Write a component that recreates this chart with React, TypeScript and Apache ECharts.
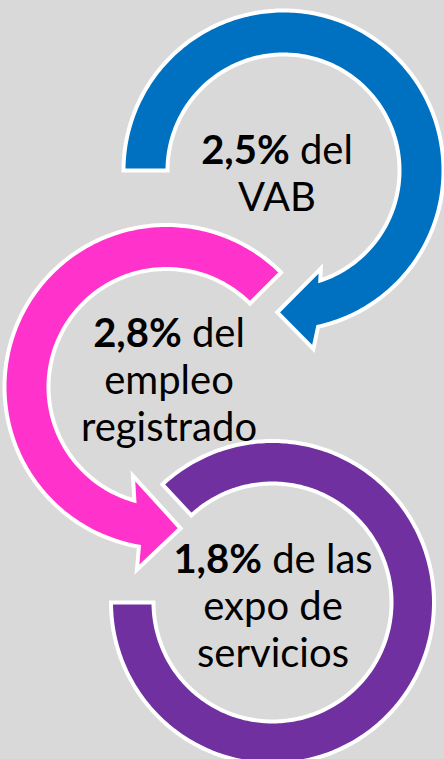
import React, { useEffect, useRef } from "react";
import * as echarts from "echarts";

// ---- content data ----
const percents = ["2,5%", "2,8%", "1,8%"];
const firstLineRest = [" del", " del", " de las"];
const otherLines = [["VAB"], ["empleo", "registrado"], ["expo de", "servicios"]];
const colors = ["#0070C0", "#FF33CC", "#7030A0"];

// ---- layout (ring geometry, screen angles in degrees, y down) ----
type Arrow = { outerWing: [number, number]; tip: [number, number]; innerWing: [number, number] };
type Ring = {
  cx: number; cy: number; rIn: number; rOut: number;
  start: number; endOuter: number; endInner: number;
  arrow?: Arrow;
  textX: number; textY: number;
};
const rings: Ring[] = [
  {
    cx: 283.5, cy: 170.5, rIn: 116, rOut: 160,
    start: 180, endOuter: 437.5, endInner: 431.5,
    arrow: { outerWing: [181, 440.5], tip: [142, 452.5], innerWing: [105, 429.2] },
    textX: 277, textY: 172,
  },
  {
    cx: 166.5, cy: 387, rIn: 118, rOut: 162,
    start: 315, endOuter: 99.8, endInner: 105.8,
    arrow: { outerWing: [185, 99.2], tip: [142, 84.3], innerWing: [95, 110.7] },
    textX: 169, textY: 379,
  },
  {
    cx: 272.5, cy: 602.5, rIn: 119, rOut: 161.5,
    start: 227, endOuter: 540, endInner: 540,
    textX: 273, textY: 605,
  },
];

const FONT = "Lato";
const FS = 40;
const LH = 47;

function polar(cx: number, cy: number, r: number, deg: number): number[] {
  const a = (deg * Math.PI) / 180;
  return [cx + r * Math.cos(a), cy + r * Math.sin(a)];
}
function arcPts(cx: number, cy: number, r: number, a0: number, a1: number): number[][] {
  const n = Math.max(2, Math.ceil(Math.abs(a1 - a0) / 1));
  const out: number[][] = [];
  for (let i = 0; i <= n; i++) out.push(polar(cx, cy, r, a0 + ((a1 - a0) * i) / n));
  return out;
}
function outline(g: Ring): number[][] {
  const pts = arcPts(g.cx, g.cy, g.rOut, g.start, g.endOuter);
  if (g.arrow) {
    pts.push(polar(g.cx, g.cy, g.arrow.outerWing[0], g.arrow.outerWing[1]));
    pts.push(polar(g.cx, g.cy, g.arrow.tip[0], g.arrow.tip[1]));
    pts.push(polar(g.cx, g.cy, g.arrow.innerWing[0], g.arrow.innerWing[1]));
  }
  return pts.concat(arcPts(g.cx, g.cy, g.rIn, g.endInner, g.start));
}

export default function App() {
  const ref = useRef<HTMLDivElement>(null);
  useEffect(() => {
    if (!ref.current) return;
    const chart = echarts.init(ref.current, undefined, { renderer: "svg" });
    const elements: any[] = [];
    const drawOrder = [2, 1, 0];
    drawOrder.forEach((i, k) => {
      elements.push({
        type: "polygon",
        z: 10 + k,
        shape: { points: outline(rings[i]) },
        style: { fill: colors[i], stroke: "#FFFFFF", lineWidth: 4, lineJoin: "miter" },
      });
    });
    rings.forEach((g, i) => {
      const lines = [`{b|${percents[i]}}{n|${firstLineRest[i]}}`].concat(
        otherLines[i].map((t) => `{n|${t}}`)
      );
      elements.push({
        type: "text",
        z: 30,
        x: g.textX,
        y: g.textY,
        style: {
          text: lines.join("\n"),
          align: "center",
          verticalAlign: "middle",
          fill: "#000000",
          fontFamily: FONT,
          fontSize: FS,
          lineHeight: LH,
          rich: {
            b: { fontFamily: FONT, fontSize: FS, fontWeight: "bold", fill: "#000000", lineHeight: LH },
            n: { fontFamily: FONT, fontSize: FS, fontWeight: "normal", fill: "#000000", lineHeight: LH },
          },
        },
      });
    });
    chart.setOption({
      animation: false,
      backgroundColor: "#D9D9D9",
      graphic: { elements },
    });
    return () => chart.dispose();
  }, []);
  return (
    <div
      ref={ref}
      style={{ position: "absolute", left: 0, top: 0, width: 444, height: 759 }}
    />
  );
}
